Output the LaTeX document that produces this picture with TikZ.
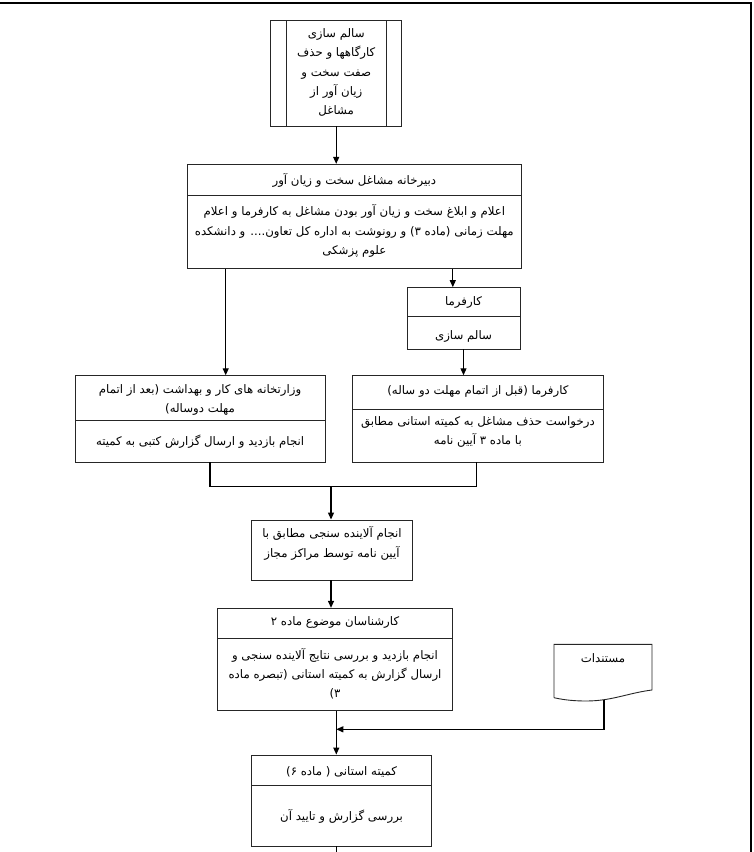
\documentclass[tikz,border=0pt]{standalone}
\usepackage{fontspec}
\usetikzlibrary{arrows.meta}
\TeXXeTstate=1
\newfontfamily\fafont[Script=Arabic]{DejaVu Sans}
\newcommand{\fa}[1]{\beginR #1\endR}
\begin{document}
\begin{tikzpicture}[x=1bp,y=-1bp,
  box/.style={draw=black!85, line width=0.9bp, inner sep=0pt},
  txt/.style={font=\fafont\fontsize{11.8}{19.3}\selectfont, align=center, inner sep=0pt, text=black},
  arr/.style={draw=black, line width=1.2bp, -{Triangle[length=7bp,width=6bp]}},
  ln/.style={draw=black, line width=1.2bp},
  div/.style={draw=black!85, line width=0.9bp}]
\useasboundingbox (0,0) rectangle (754,852);
% frame
\draw[line width=1.5bp] (0,3) -- (751,3) -- (751,853);

% box 1 (predefined process)
\node[box, minimum width=131bp, minimum height=106bp] (b1) at (336.2,73) {};
\draw[div] (286.7,20) -- (286.7,126);
\draw[div] (386,20) -- (386,126);
\node[txt] (t1) at (336.2,72.5) {\fa{سالم سازی}\\\fa{کارگاهها و حذف}\\\fa{صفت سخت و}\\\fa{زیان آور از}\\\fa{مشاغل}};

% box 2
\node[box, minimum width=334.7bp, minimum height=104.4bp] (b2) at (354.35,216.5) {};
\draw[div] (187,195.3) -- (521.7,195.3);
\node[txt] (t2h) at (354.35,180.3) {\fa{دبیرخانه مشاغل سخت و زیان آور}};
\node[txt] (t2b) at (354.35,231) {\fa{اعلام و ابلاغ سخت و زیان آور بودن مشاغل به کارفرما و اعلام}\\\fa{مهلت زمانی (ماده ۳) و رونوشت به اداره کل تعاون.... و دانشکده}\\\fa{علوم پزشکی}};

% small employer box
\node[box, minimum width=113bp, minimum height=61.4bp] (bk) at (463.5,318.3) {};
\draw[div] (407,316.2) -- (520,316.2);
\node[txt] (tkh) at (463.5,302) {\fa{کارفرما}};
\node[txt] (tkb) at (463.5,336) {\fa{سالم سازی}};

% left large box
\node[box, minimum width=249.8bp, minimum height=86.3bp] (bl) at (200.1,418.85) {};
\draw[div] (75.2,420) -- (325,420);
\node[txt] (tlh) at (200.1,400) {\fa{وزارتخانه های کار و بهداشت (بعد از اتمام}\\\fa{مهلت دوساله)}};
\node[txt] (tlb) at (200.1,441.7) {\fa{انجام بازدید و ارسال گزارش کتبی به کمیته}};

% right large box
\node[box, minimum width=251.8bp, minimum height=86.3bp] (br) at (477.9,418.85) {};
\draw[div] (352,409.3) -- (603.8,409.3);
\node[txt] (trh) at (477.9,391) {\fa{کارفرما (قبل از اتمام مهلت دو ساله)}};
\node[txt] (trb) at (477.9,432) {\fa{درخواست حذف مشاغل به کمیته استانی مطابق}\\\fa{با ماده ۳ آیین نامه}};

% measurement box
\node[box, minimum width=160.6bp, minimum height=60bp] (ba) at (332,550) {};
\node[txt] (ta) at (332,543.3) {\fa{انجام آلاینده سنجی مطابق با}\\\fa{آیین نامه توسط مراکز مجاز}};

% experts box
\node[box, minimum width=234.6bp, minimum height=102.4bp] (bc) at (335,659.5) {};
\draw[div] (217.7,638.3) -- (452.3,638.3);
\node[txt] (tch) at (335,622.7) {\fa{کارشناسان موضوع ماده ۲}};
\node[txt] (tcb) at (335,673.5) {\fa{انجام بازدید و بررسی نتایج آلاینده سنجی و}\\\fa{ارسال گزارش به کمیته استانی (تبصره ماده}\\\fa{۳)}};

% document shape
\draw[box] (554,697.7) -- (554,644.3) -- (652,644.3) -- (652,690)
  .. controls (628,693) and (612,701) .. (586,701)
  .. controls (570,701) and (560,699) .. (554,697.7);
\node[txt] (doc) at (603,658) {\fa{مستندات}};
\coordinate (docb) at (604,699.5);

% final box
\node[box, minimum width=179.8bp, minimum height=91bp] (bf) at (341.6,800.5) {};
\draw[div] (251.7,785.7) -- (431.5,785.7);
\node[txt] (tfh) at (341.6,771.7) {\fa{کمیته استانی ( ماده ۶)}};
\node[txt] (tfb) at (341.6,816.7) {\fa{بررسی گزارش و تایید آن}};

% connectors
\coordinate (xl) at (225.7,0);
\coordinate (xk) at (452.8,0);
\coordinate (xlb) at (210,0);
\coordinate (xrb) at (476.7,0);
\coordinate (j) at (331,486.7);
\coordinate (xm) at (336.3,0);
\coordinate (m) at (604,729.3);
\coordinate (endp) at (336.3,853);

\draw[arr] (b1.south) -- (b1.south |- b2.north);
\draw[arr] (b2.south -| xl) -- (bl.north -| xl);
\draw[arr] (b2.south -| xk) -- (bk.north -| xk);
\draw[arr] (bk.south) -- (bk.south |- br.north);
\draw[ln] (bl.south -| xlb) -- (xlb |- j) -- (xrb |- j) -- (br.south -| xrb);
\draw[arr] (j) -- (j |- ba.north);
\draw[arr] (ba.south -| j) -- (bc.north -| j);
\draw[arr] (bc.south -| xm) -- (bf.north -| xm);
\draw[arr] (docb) -- (m) -- (m -| xm);
\draw[ln] (bf.south -| xm) -- (endp);
\end{tikzpicture}
\end{document}
